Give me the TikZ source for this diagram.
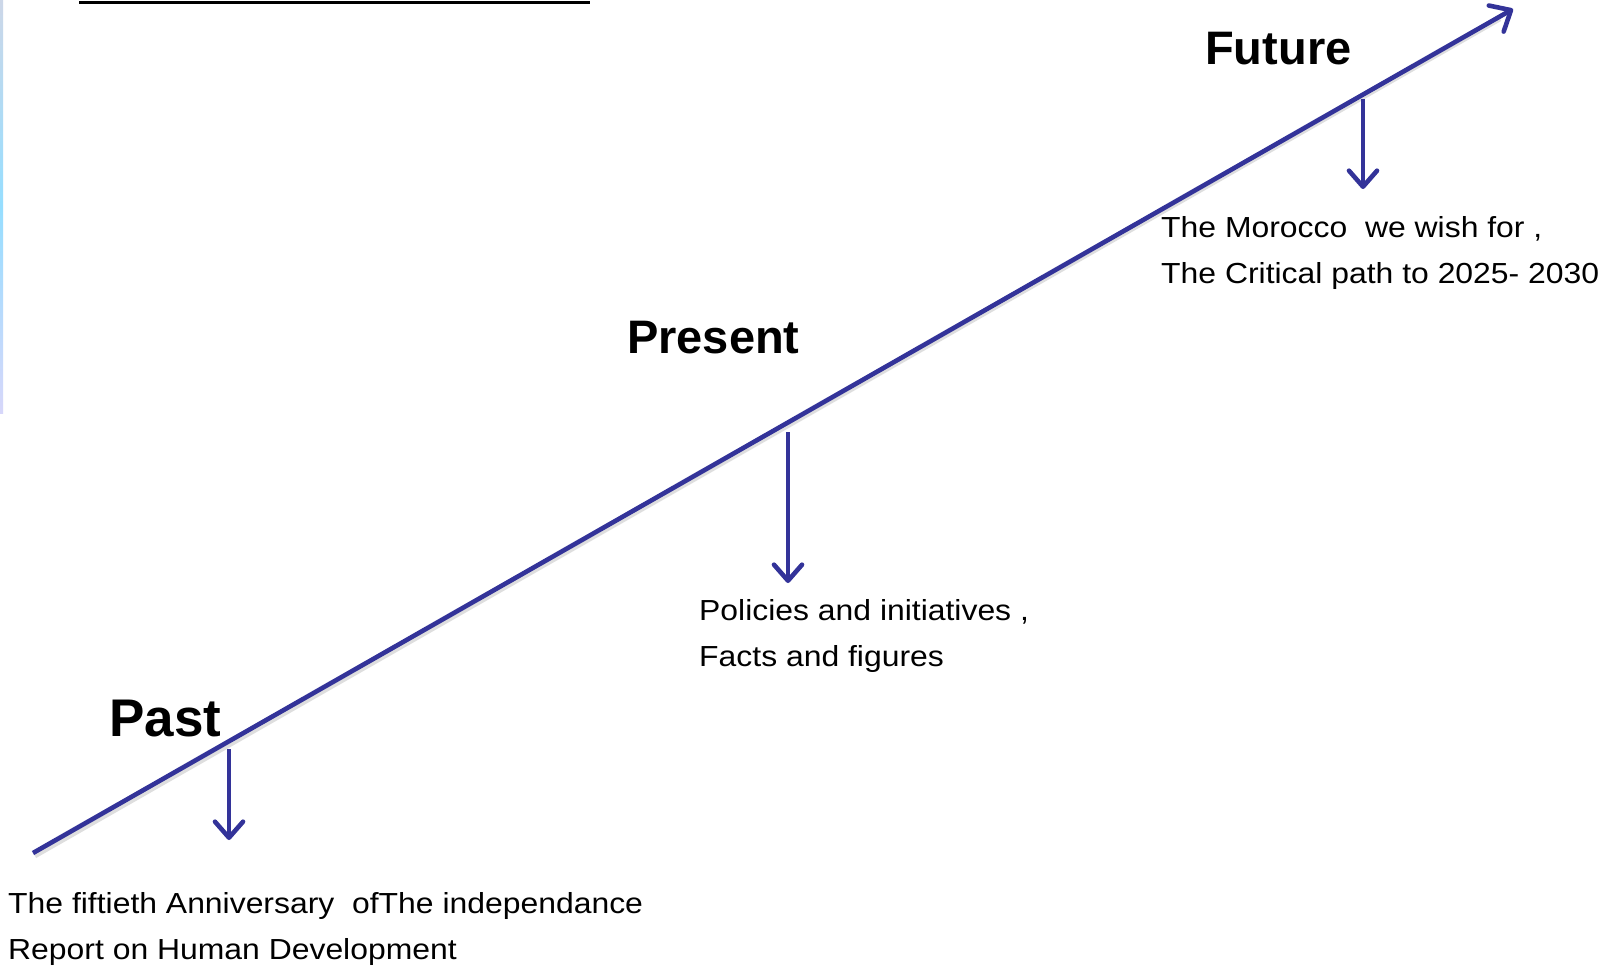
\documentclass[tikz,border=0pt]{standalone}
\usepackage{fontspec}
\setmainfont{Liberation Sans}
\newfontfamily\notefont[FakeStretch=1.1]{Liberation Sans}
\usetikzlibrary{arrows.meta}
\definecolor{timeblue}{RGB}{51,51,153}
\definecolor{stripA}{RGB}{205,215,232}
\definecolor{stripB}{RGB}{150,222,255}
\definecolor{stripC}{RGB}{215,215,250}
\begin{document}
\begin{tikzpicture}[x=1pt,y=-1pt,
  timeline/.style={draw=timeblue,line width=4.6pt,-{Straight Barb[length=17pt,width=30pt,line width=4.6pt,round]}},
  dropper/.style={draw=timeblue,line width=4.6pt,-{Straight Barb[length=16pt,width=28pt,line width=4.6pt,round]}},
  shadowline/.style={draw=black!25,line width=4.6pt,opacity=0.5},
  era/.style={font=\fontsize{47}{56}\selectfont\bfseries,anchor=base west,inner sep=0pt},
  note/.style={font=\notefont\fontsize{29}{46}\selectfont,anchor=base west,align=left,inner sep=0pt}]
\useasboundingbox (0,0) rectangle (1614,967);
\fill[white] (0,0) rectangle (1614,967);

% slide edge and header rule
\shade[top color=stripA,bottom color=stripC,middle color=stripB] (0,0) rectangle (3,413);
\draw[line width=2.2pt] (79,2.5) -- (590,2.5);

% main time axis
\coordinate (start) at (33,853);
\coordinate (tip) at (1513,9);
\draw[shadowline] (35,856) -- (1500,19);
\draw[timeline] (start) -- (tip);

% stations on the axis
\coordinate (pastTop) at (229,749);
\coordinate (pastEnd) at (229,840);
\coordinate (presentTop) at (788,432);
\coordinate (presentEnd) at (788,583);
\coordinate (futureTop) at (1363,99);
\coordinate (futureEnd) at (1363,189);
\draw[dropper] (pastTop) -- (pastEnd);
\draw[dropper] (presentTop) -- (presentEnd);
\draw[dropper] (futureTop) -- (futureEnd);

% headings
\node[era,font=\fontsize{53}{60}\selectfont\bfseries] (past) at (109,736) {Past};
\node[era] (present) at (627,353) {Present};
\node[era] (future) at (1205,64) {Future};

% descriptions (anchored at the baseline of their last line)
\node[note] (pastnote) at (8,959) {The fiftieth Anniversary\ \ ofThe independance\\Report on Human Development};
\node[note] (presentnote) at (699,666) {Policies and initiatives ,\\Facts and figures};
\node[note] (futurenote) at (1161,283) {The Morocco\ \ we wish for ,\\The Critical path to 2025- 2030};
\end{tikzpicture}
\end{document}
